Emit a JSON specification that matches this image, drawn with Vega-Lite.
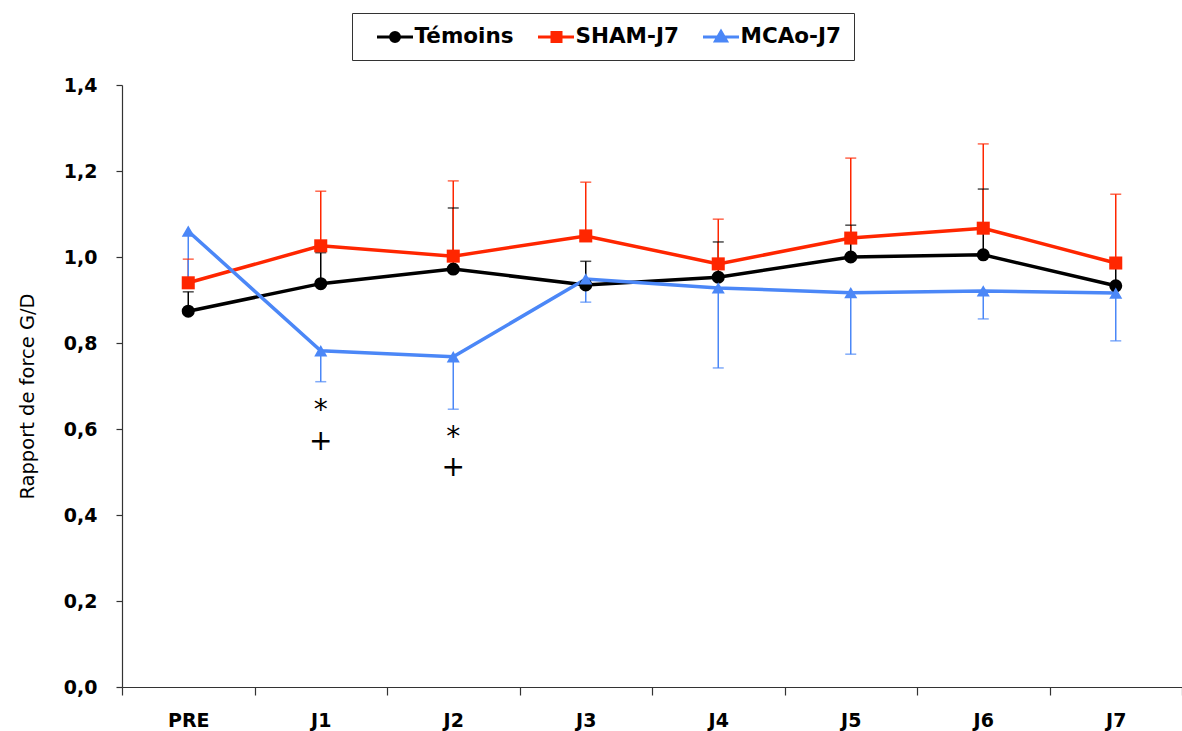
{
  "$schema": "https://vega.github.io/schema/vega-lite/v6.json",
  "width": 1060,
  "height": 602,
  "autosize": {"type": "none"},
  "padding": {"left": 122, "top": 85, "right": 0, "bottom": 44},
  "background": "white",
  "config": {
    "font": "DejaVu Sans",
    "view": {"stroke": null},
    "axis": {"domainColor": "#333333", "tickColor": "#333333", "grid": false, "labelColor": "#000000", "titleColor": "#000000", "labelFont": "DejaVu Sans", "titleFont": "DejaVu Sans"},
    "legend": {"labelFont": "DejaVu Sans"}
  },
  "data": {
    "values": [
      {"day": "PRE", "group": "Témoins", "mean": 0.874, "err": 0.919},
      {"day": "J1", "group": "Témoins", "mean": 0.938, "err": 1.01},
      {"day": "J2", "group": "Témoins", "mean": 0.972, "err": 1.114},
      {"day": "J3", "group": "Témoins", "mean": 0.935, "err": 0.99},
      {"day": "J4", "group": "Témoins", "mean": 0.953, "err": 1.035},
      {"day": "J5", "group": "Témoins", "mean": 1.0, "err": 1.074},
      {"day": "J6", "group": "Témoins", "mean": 1.005, "err": 1.158},
      {"day": "J7", "group": "Témoins", "mean": 0.933, "err": 0.98},
      {"day": "PRE", "group": "SHAM-J7", "mean": 0.94, "err": 0.995},
      {"day": "J1", "group": "SHAM-J7", "mean": 1.026, "err": 1.153},
      {"day": "J2", "group": "SHAM-J7", "mean": 1.002, "err": 1.177},
      {"day": "J3", "group": "SHAM-J7", "mean": 1.049, "err": 1.174},
      {"day": "J4", "group": "SHAM-J7", "mean": 0.984, "err": 1.088},
      {"day": "J5", "group": "SHAM-J7", "mean": 1.044, "err": 1.23},
      {"day": "J6", "group": "SHAM-J7", "mean": 1.067, "err": 1.263},
      {"day": "J7", "group": "SHAM-J7", "mean": 0.986, "err": 1.146},
      {"day": "PRE", "group": "MCAo-J7", "mean": 1.06, "err": 0.945},
      {"day": "J1", "group": "MCAo-J7", "mean": 0.782, "err": 0.71},
      {"day": "J2", "group": "MCAo-J7", "mean": 0.768, "err": 0.646},
      {"day": "J3", "group": "MCAo-J7", "mean": 0.949, "err": 0.895},
      {"day": "J4", "group": "MCAo-J7", "mean": 0.928, "err": 0.742},
      {"day": "J5", "group": "MCAo-J7", "mean": 0.917, "err": 0.774},
      {"day": "J6", "group": "MCAo-J7", "mean": 0.921, "err": 0.856},
      {"day": "J7", "group": "MCAo-J7", "mean": 0.916, "err": 0.805}
    ]
  },
  "encoding": {
    "x": {
      "field": "day",
      "type": "ordinal",
      "sort": ["PRE", "J1", "J2", "J3", "J4", "J5", "J6", "J7"],
      "scale": {"type": "band", "paddingInner": 0, "paddingOuter": 0},
      "axis": {
        "title": null,
        "labelAngle": 0,
        "tickBand": "extent",
        "tickSize": 8,
        "labelPadding": 16,
        "labelFontSize": 19,
        "labelFontWeight": "bold",
        "domainWidth": 1.2,
        "tickWidth": 1.2
      }
    },
    "color": {
      "field": "group",
      "type": "nominal",
      "scale": {"domain": ["Témoins", "SHAM-J7", "MCAo-J7"], "range": ["#000000", "#FF2600", "#4B87F7"]},
      "legend": {
        "title": null,
        "orient": "none",
        "direction": "horizontal",
        "legendX": 230,
        "legendY": -72,
        "padding": 12.5,
        "strokeColor": "#333333",
        "fillColor": "white",
        "symbolSize": 400,
        "symbolStrokeWidth": 3,
        "labelFontSize": 21.5,
        "labelFontWeight": "bold",
        "labelColor": "#000000",
        "labelOffset": 27,
        "columnPadding": 11,
        "encode": {
          "symbols": {
            "update": {
              "shape": {"signal": "datum.value === 'Témoins' ? 'M0.1,0H3.7M1.45,0A0.45,0.45 0 1,0 2.35,0A0.45,0.45 0 1,0 1.45,0Z' : datum.value === 'SHAM-J7' ? 'M0.1,0H3.7M1.5,-0.45H2.4V0.45H1.5Z' : 'M0.1,0H3.7M1.9,-0.55L2.45,0.4H1.35Z'"},
              "fill": {"signal": "scale('color', datum.value)"},
              "stroke": {"signal": "scale('color', datum.value)"},
              "fillOpacity": {"value": 1},
              "strokeOpacity": {"value": 1},
              "opacity": {"value": 1}
            }
          }
        }
      }
    }
  },
  "layer": [
    {
      "mark": {"type": "rule", "strokeWidth": 1.5},
      "encoding": {
        "y": {"field": "mean", "type": "quantitative"},
        "y2": {"field": "err"}
      }
    },
    {
      "mark": {"type": "tick", "size": 11, "thickness": 1.5, "orient": "horizontal"},
      "encoding": {
        "y": {"field": "err", "type": "quantitative"}
      }
    },
    {
      "mark": {"type": "line", "strokeWidth": 3.5},
      "encoding": {
        "y": {
          "field": "mean",
          "type": "quantitative",
          "scale": {"domain": [0, 1.4], "nice": false, "zero": true},
          "axis": {
            "values": [0, 0.2, 0.4, 0.6, 0.8, 1.0, 1.2, 1.4],
            "labelExpr": "replace(format(datum.value, '.1f'), '.', ',')",
            "labelFontSize": 19,
            "labelFontWeight": "bold",
            "tickSize": 6,
            "labelPadding": 19,
            "domainWidth": 1.2,
            "tickWidth": 1.2,
            "title": "Rapport de force G/D",
            "titleFontSize": 19.5,
            "titleFontWeight": "normal",
            "titlePadding": 26,
            "titleY": 311
          }
        }
      }
    },
    {
      "transform": [{"filter": "datum.group === 'Témoins'"}],
      "mark": {"type": "point", "filled": true, "opacity": 1, "size": 170, "shape": "circle"},
      "encoding": {"y": {"field": "mean", "type": "quantitative"}}
    },
    {
      "transform": [{"filter": "datum.group === 'SHAM-J7'"}],
      "mark": {"type": "point", "filled": true, "opacity": 1, "size": 170, "shape": "square"},
      "encoding": {"y": {"field": "mean", "type": "quantitative"}}
    },
    {
      "transform": [{"filter": "datum.group === 'MCAo-J7'"}],
      "mark": {"type": "point", "filled": true, "opacity": 1, "size": 170, "shape": "triangle-up"},
      "encoding": {"y": {"field": "mean", "type": "quantitative"}}
    },
    {
      "data": {
        "values": [
          {"day": "J1", "v": 0.642, "t": "*"},
          {"day": "J1", "v": 0.569, "t": "+"},
          {"day": "J2", "v": 0.579, "t": "*"},
          {"day": "J2", "v": 0.509, "t": "+"}
        ]
      },
      "mark": {"type": "text", "fontSize": 28, "color": "#000000", "baseline": "middle", "align": "center", "font": "DejaVu Sans", "fontWeight": "normal"},
      "encoding": {
        "y": {"field": "v", "type": "quantitative"},
        "text": {"field": "t"},
        "color": {"value": "#000000"}
      }
    }
  ]
}
